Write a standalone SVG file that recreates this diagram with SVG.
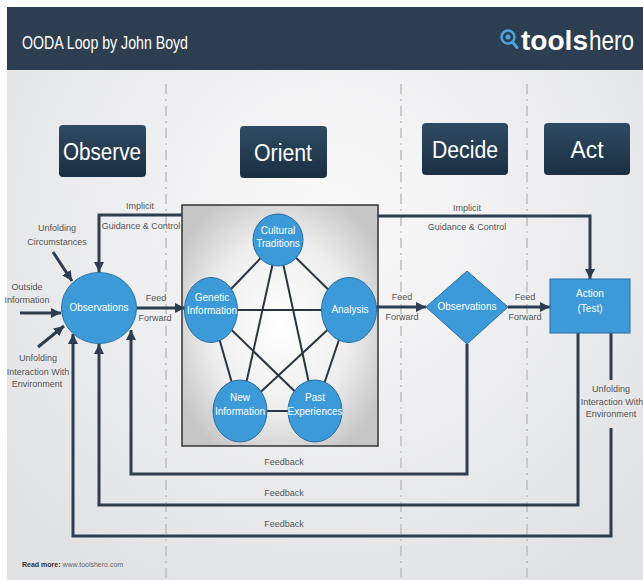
<svg xmlns="http://www.w3.org/2000/svg" width="643" height="580" viewBox="0 0 643 580">
<defs>
<radialGradient id="bg" cx="330" cy="220" r="420" gradientUnits="userSpaceOnUse">
<stop offset="0" stop-color="#fafafb"/>
<stop offset="1" stop-color="#e1e2e4"/>
</radialGradient>
<radialGradient id="orientBg" cx="0.5" cy="0.5" r="0.6">
<stop offset="0" stop-color="#ffffff"/>
<stop offset="0.6" stop-color="#eeeeee"/>
<stop offset="1" stop-color="#c6c6c6"/>
</radialGradient>
<linearGradient id="phase" x1="0" y1="0" x2="0" y2="1">
<stop offset="0" stop-color="#2f4b63"/>
<stop offset="1" stop-color="#1b2f42"/>
</linearGradient>
<marker id="arrow" viewBox="0 0 10 10" refX="10" refY="5" markerWidth="10" markerHeight="10" markerUnits="userSpaceOnUse" orient="auto">
<path d="M0,0 L10,5 L0,10 z" fill="#2c3e50"/>
</marker>
<style>
.phase rect{fill:url(#phase);}
.phase text{font-family:"Liberation Sans",Arial,sans-serif;font-size:23px;fill:#ffffff;text-anchor:middle;}
.node ellipse,.node polygon,.node rect{fill:#3d9ad9;stroke:#2b6ea3;stroke-width:1;}
.node text{font-family:"Liberation Sans",Arial,sans-serif;font-size:10px;fill:#ffffff;text-anchor:middle;}
.lbl{font-family:"Liberation Sans",Arial,sans-serif;font-size:9px;fill:#555555;text-anchor:middle;}
.conn{fill:none;stroke:#2c3e50;stroke-width:3;}
.arr{marker-end:url(#arrow);}
.pent{stroke:#2b3440;stroke-width:2;fill:none;}
.dash{stroke:#bdbdbd;stroke-width:1.5;stroke-dasharray:10 5 2 5;}
</style>
</defs>
<rect x="0" y="0" width="643" height="580" fill="#ffffff"/>
<rect x="7" y="70" width="636" height="510" fill="url(#bg)"/>
<g id="header">
<rect x="7" y="7" width="636" height="63" fill="#2c3e50"/>
<text x="22" y="49" font-family="Liberation Sans, Arial, sans-serif" font-size="19" fill="#ffffff" textLength="166" lengthAdjust="spacingAndGlyphs">OODA Loop by John Boyd</text>
<g id="logo">
<circle cx="508" cy="37" r="6.5" fill="none" stroke="#4aa3e0" stroke-width="2.5"/>
<circle cx="508" cy="37" r="2.5" fill="#4aa3e0"/>
<line x1="512.5" y1="42" x2="517" y2="47.5" stroke="#4aa3e0" stroke-width="3" stroke-linecap="round"/>
<text x="521" y="50" font-family="Liberation Sans, Arial, sans-serif" font-size="27" font-weight="bold" fill="#ffffff" textLength="67" lengthAdjust="spacingAndGlyphs">tools</text>
<text x="589" y="50" font-family="Liberation Sans, Arial, sans-serif" font-size="27" fill="#ffffff" textLength="45" lengthAdjust="spacingAndGlyphs">hero</text>
</g>
</g>
<g id="dividers">
<line class="dash" x1="166" y1="84" x2="166" y2="580"/>
<line class="dash" x1="401" y1="84" x2="401" y2="580"/>
<line class="dash" x1="527" y1="84" x2="527" y2="580"/>
</g>
<g id="phase-observe" class="phase"><rect x="59" y="125" width="87" height="52" rx="4"/><text x="102" y="160" textLength="78" lengthAdjust="spacingAndGlyphs">Observe</text></g>
<g id="phase-orient" class="phase"><rect x="240" y="126" width="87" height="52" rx="4"/><text x="283" y="161" textLength="58" lengthAdjust="spacingAndGlyphs">Orient</text></g>
<g id="phase-decide" class="phase"><rect x="422" y="123" width="86" height="52" rx="4"/><text x="465" y="158" textLength="66" lengthAdjust="spacingAndGlyphs">Decide</text></g>
<g id="phase-act" class="phase"><rect x="544" y="123" width="86" height="52" rx="4"/><text x="587" y="158" textLength="33" lengthAdjust="spacingAndGlyphs">Act</text></g>
<g id="orient-box"><rect x="182" y="205" width="196" height="241" fill="url(#orientBg)" stroke="#333333" stroke-width="1.5"/></g>
<g id="connectors">
<path class="conn arr" d="M182,215 H99 V272"/>
<path class="conn arr" d="M53,252 L72,281"/>
<path class="conn arr" d="M20,313 L61,313"/>
<path class="conn arr" d="M38,347 L64,326"/>
<path class="conn arr" d="M137,308 L185,308"/>
<path class="conn arr" d="M376,307 L426,307"/>
<path class="conn arr" d="M508,307 L550,307"/>
<path class="conn arr" d="M378,216 H590 V279"/>
<path class="conn arr" d="M467,344 V474 H131 V330"/>
<path class="conn arr" d="M578,333 V505 H99 V344"/>
<path class="conn arr" d="M611,428 V536 H73 V334"/>
<path class="conn" d="M611,333 V380"/>
<g id="orient-links">
<line class="pent" x1="278" y1="240" x2="211" y2="310"/>
<line class="pent" x1="278" y1="240" x2="349" y2="310"/>
<line class="pent" x1="278" y1="240" x2="240" y2="411"/>
<line class="pent" x1="278" y1="240" x2="315" y2="411"/>
<line class="pent" x1="211" y1="310" x2="349" y2="310"/>
<line class="pent" x1="211" y1="310" x2="315" y2="411"/>
<line class="pent" x1="211" y1="310" x2="240" y2="411"/>
<line class="pent" x1="349" y1="310" x2="240" y2="411"/>
<line class="pent" x1="349" y1="310" x2="315" y2="411"/>
<line class="pent" x1="240" y1="411" x2="315" y2="411"/>
</g>
</g>
<g id="labels">
<text class="lbl" x="140" y="209">Implicit</text>
<text class="lbl" x="141" y="229">Guidance &amp; Control</text>
<text class="lbl" x="57" y="231">Unfolding</text>
<text class="lbl" x="57" y="245">Circumstances</text>
<text class="lbl" x="27" y="290">Outside</text>
<text class="lbl" x="27" y="303">Information</text>
<text class="lbl" x="38" y="361">Unfolding</text>
<text class="lbl" x="38" y="375">Interaction With</text>
<text class="lbl" x="37" y="387">Environment</text>
<text class="lbl" x="156" y="301">Feed</text>
<text class="lbl" x="155" y="321">Forward</text>
<text class="lbl" x="402" y="300">Feed</text>
<text class="lbl" x="402" y="320">Forward</text>
<text class="lbl" x="525" y="300">Feed</text>
<text class="lbl" x="525" y="320">Forward</text>
<text class="lbl" x="467" y="211">Implicit</text>
<text class="lbl" x="467" y="230">Guidance &amp; Control</text>
<text class="lbl" x="611" y="392">Unfolding</text>
<text class="lbl" x="612" y="405">Interaction With</text>
<text class="lbl" x="611" y="417">Environment</text>
<text class="lbl" x="284" y="465">Feedback</text>
<text class="lbl" x="284" y="496">Feedback</text>
<text class="lbl" x="284" y="527">Feedback</text>
</g>
<g id="node-observations" class="node"><ellipse cx="99" cy="308" rx="37.5" ry="35.5"/><text x="99" y="311">Observations</text></g>
<g id="node-cultural" class="node"><ellipse cx="278" cy="240" rx="25" ry="26"/><text x="278" y="234">Cultural</text><text x="278" y="247">Traditions</text></g>
<g id="node-genetic" class="node"><ellipse cx="211" cy="310" rx="26.5" ry="32.5"/><text x="212" y="301">Genetic</text><text x="212" y="314">Information</text></g>
<g id="node-analysis" class="node"><ellipse cx="349" cy="310" rx="27.5" ry="32.5"/><text x="350" y="313">Analysis</text></g>
<g id="node-new" class="node"><ellipse cx="240" cy="411" rx="27" ry="31"/><text x="240" y="401">New</text><text x="240" y="415">Information</text></g>
<g id="node-past" class="node"><ellipse cx="315" cy="411" rx="27" ry="31"/><text x="315" y="401">Past</text><text x="315" y="415">Experiences</text></g>
<g id="node-decide" class="node"><polygon points="426,307 467,271 508,307 467,344"/><text x="467" y="310">Observations</text></g>
<g id="node-action" class="node"><rect x="550" y="279" width="80" height="54"/><text x="590" y="297">Action</text><text x="590" y="312">(Test)</text></g>
<g id="footer">
<text x="22" y="567" font-family="Liberation Sans, Arial, sans-serif" font-size="7" fill="#333333"><tspan font-weight="bold">Read more:</tspan><tspan fill="#666666"> www.toolshero.com</tspan></text>
</g>
</svg>
